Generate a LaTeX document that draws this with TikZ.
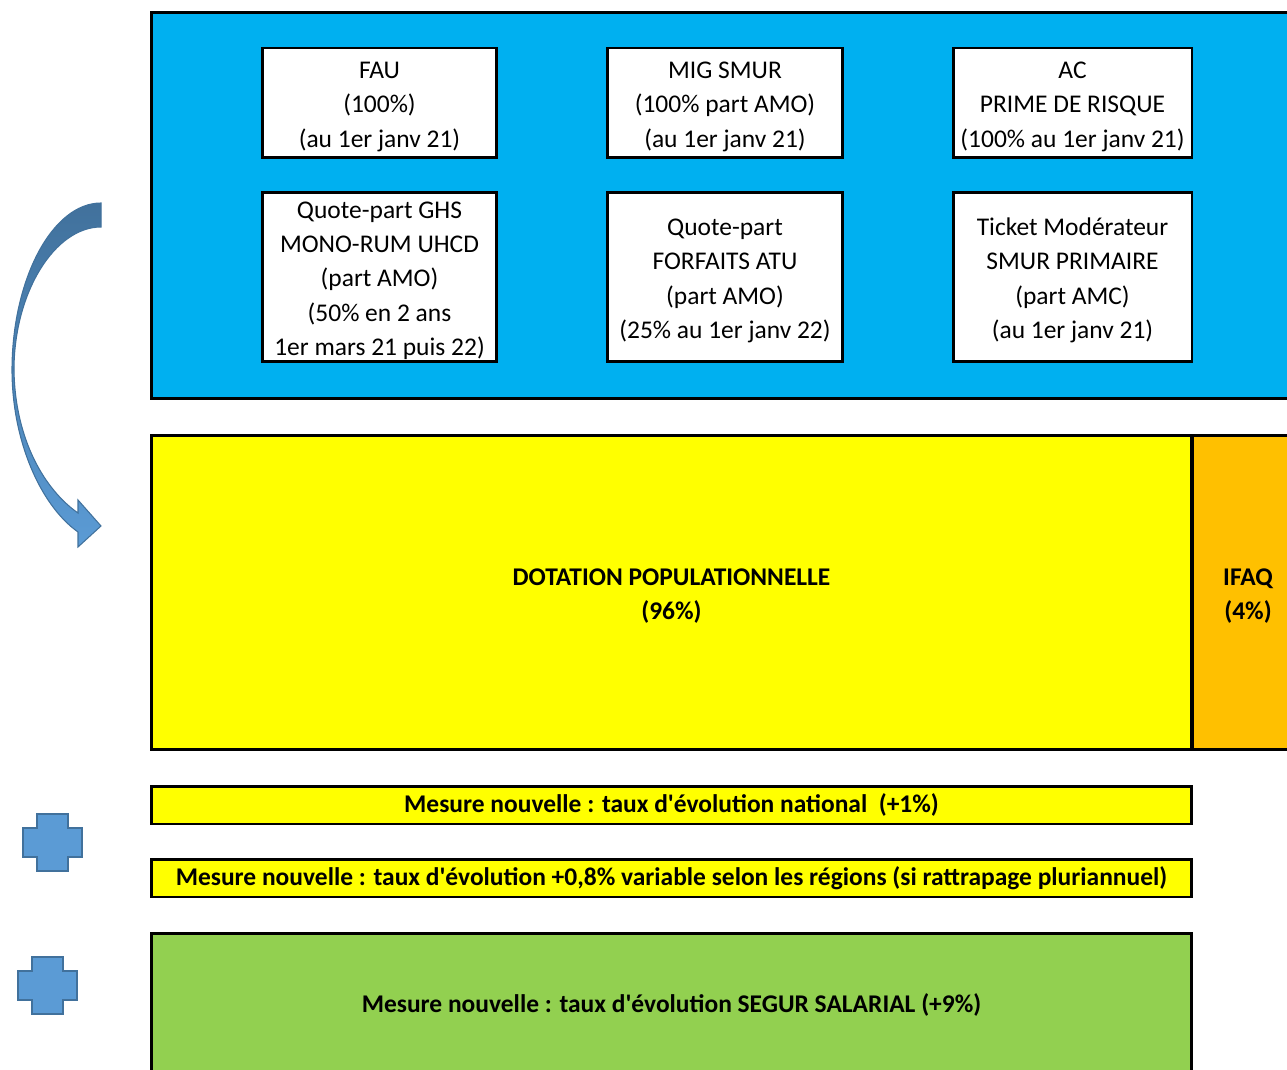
\documentclass[tikz,border=0pt]{standalone}
\usepackage{fontspec}
\setmainfont{Carlito}
\usetikzlibrary{calc}
\definecolor{skyfill}{HTML}{00B0F0}
\definecolor{popfill}{HTML}{FFFF00}
\definecolor{ifaqfill}{HTML}{FFC000}
\definecolor{segurfill}{HTML}{92D050}
\definecolor{plusfill}{HTML}{5B9BD5}
\definecolor{plusedge}{HTML}{41719C}
\newcommand*{\q}{\textquotesingle}
\tikzset{
  txt/.style={font=\fontsize{14.5}{19.6}\selectfont},
  cell/.style={txt,draw=black,line width=1.7pt,fill=white,align=center,inner sep=0pt},
  band/.style={txt,draw=black,line width=1.7pt,align=center,inner sep=0pt,font=\fontsize{14.5}{19.6}\selectfont\bfseries},
  plus/.style={fill=plusfill,draw=plusedge,line width=1pt}
}

\begin{document}
\begin{tikzpicture}[x=0.02cm,y=-0.02cm]

\useasboundingbox (0,0) rectangle (1287,1070);
\clip (0,0) rectangle (1287,1070);

% Blue frame
\node[band,fill=skyfill,minimum width=23.18cm,minimum height=7.74cm] (frame) at (730.5,205.5) {};

% Top row
\node[cell,minimum width=4.7cm,minimum height=2.2cm] (fau) at (379.5,103)
  {\strut FAU\\(100\%)\\(au 1er janv 21)};
\node[cell,minimum width=4.72cm,minimum height=2.2cm] (smur) at (725,103)
  {\strut MIG SMUR\\(100\% part AMO)\\(au 1er janv 21)};
\node[cell,minimum width=4.78cm,minimum height=2.2cm] (prime) at (1072.5,103)
  {\strut AC\\PRIME DE RISQUE\\(100\% au 1er janv 21)};

% Bottom row
\node[cell,minimum width=4.7cm,minimum height=3.4cm] (ghs) at (379.5,277)
  {\strut Quote-part GHS\\MONO-RUM UHCD\\(part AMO)\\(50\% en 2 ans\\1er mars 21 puis 22)};
\node[cell,minimum width=4.72cm,minimum height=3.4cm] (atu) at (725,277)
  {\strut Quote-part\\FORFAITS ATU\\(part AMO)\\(25\% au 1er janv 22)};
\node[cell,minimum width=4.78cm,minimum height=3.4cm] (ticket) at (1072.5,277)
  {\strut Ticket Modérateur\\SMUR PRIMAIRE\\(part AMC)\\(au 1er janv 21)};

% Dotation
\node[band,fill=popfill,minimum width=20.82cm,minimum height=6.3cm] (dotation) at (671.5,592.5)
  {\strut DOTATION POPULATIONNELLE\\(96\%)};
\node[band,fill=ifaqfill,minimum width=2.24cm,minimum height=6.3cm] (ifaq) at (1248,592.5)
  {\strut IFAQ\\(4\%)};

% Mesures nouvelles
\node[band,fill=popfill,minimum width=20.82cm,minimum height=0.76cm] (national) at (671.5,805)
  {Mesure nouvelle : taux d\q évolution national\ \ (+1\%)};
\node[band,fill=popfill,minimum width=20.82cm,minimum height=0.76cm] (regions) at (671.5,878)
  {Mesure nouvelle : taux d\q évolution +0,8\% variable selon les régions (si rattrapage pluriannuel)};
\node[band,fill=segurfill,minimum width=20.82cm,minimum height=2.88cm] (segur) at (671.5,1005)
  {Mesure nouvelle : taux d\q évolution SEGUR SALARIAL (+9\%)};

% Curved arrow
\shade[top color=plusedge,bottom color=plusfill,draw=plusedge,line width=0.6pt]
  (101,203) .. controls (52,203) and (12,280) .. (12,370)
  .. controls (12,440) and (40,505) .. (78,532)
  -- (78,547) -- (101,526) -- (78,500) -- (78,513)
  .. controls (45,490) and (15,440) .. (14,370)
  .. controls (14,292) and (55,227) .. (101,227) -- cycle;

% Plus signs
\draw[plus] (37,814) -- (68,814) -- (68,828) -- (82,828) -- (82,857) -- (68,857)
  -- (68,871) -- (37,871) -- (37,857) -- (23,857) -- (23,828) -- (37,828) -- cycle;
\begin{scope}[shift={(-5,143)}]
\draw[plus] (37,814) -- (68,814) -- (68,828) -- (82,828) -- (82,857) -- (68,857)
  -- (68,871) -- (37,871) -- (37,857) -- (23,857) -- (23,828) -- (37,828) -- cycle;
\end{scope}

\end{tikzpicture}
\end{document}
